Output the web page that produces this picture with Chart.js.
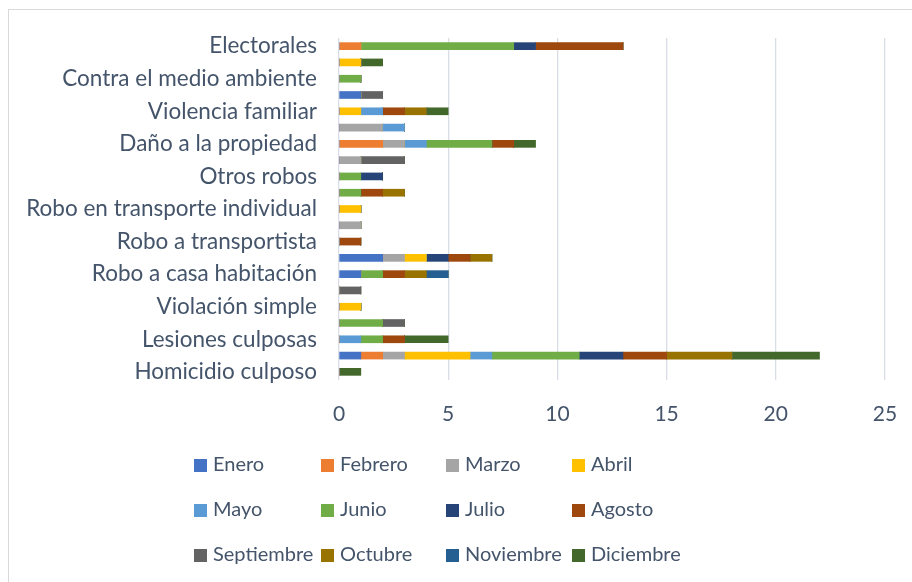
<!DOCTYPE html>
<html>
<head>
<meta charset="utf-8">
<script src="https://cdn.jsdelivr.net/npm/chart.js@4.4.1/dist/chart.umd.min.js"></script>
<style>
  body { margin: 0; background: #fff; overflow: hidden; }
  #wrap { position: relative; width: 912px; height: 582px; }
  #frame { position: absolute; left: 8px; top: 9px; width: 920px; height: 600px; border: 1px solid #D9D9D9; box-sizing: border-box; }
  #myChart { position: absolute; left: 0; top: 0; }
  .leg { position: absolute; font-family: "Lato", sans-serif; font-size: 20px; color: #44546A; line-height: 20px; white-space: nowrap; }
  .leg span { display: inline-block; width: 13px; height: 13px; margin-right: 6px; vertical-align: -1px; }
</style>
</head>
<body>
<div id="wrap">
  <div id="frame"></div>
  <canvas id="myChart" width="912" height="582"></canvas>
  <div id="legend"></div>
</div>
<script>
// categorias de arriba hacia abajo (solo se rotulan las pares)
const categorias = [
  'Electorales', 'Narcomenudeo', 'Contra el medio ambiente', 'Otros delitos contra la familia',
  'Violencia familiar', 'Despojo', 'Daño a la propiedad', 'Fraude', 'Otros robos',
  'Robo a negocio', 'Robo en transporte individual', 'Robo a transeúnte', 'Robo a transportista',
  'Robo de vehículo automotor', 'Robo a casa habitación', 'Violación equiparada', 'Violación simple',
  'Abuso sexual', 'Lesiones culposas', 'Lesiones dolosas', 'Homicidio culposo'
];

const meses = ['Enero','Febrero','Marzo','Abril','Mayo','Junio','Julio','Agosto','Septiembre','Octubre','Noviembre','Diciembre'];

const enero      = [0,0,0,1,0,0,0,0,0,0,0,0,0,2,1,0,0,0,0,1,0];
const febrero    = [1,0,0,0,0,0,2,0,0,0,0,0,0,0,0,0,0,0,0,1,0];
const marzo      = [0,0,0,0,0,2,1,1,0,0,0,1,0,1,0,0,0,0,0,1,0];
const abril      = [0,1,0,0,1,0,0,0,0,0,1,0,0,1,0,0,1,0,0,3,0];
const mayo       = [0,0,0,0,1,1,1,0,0,0,0,0,0,0,0,0,0,0,1,1,0];
const junio      = [7,0,1,0,0,0,3,0,1,1,0,0,0,0,1,0,0,2,1,4,0];
const julio      = [1,0,0,0,0,0,0,0,1,0,0,0,0,1,0,0,0,0,0,2,0];
const agosto     = [4,0,0,0,1,0,1,0,0,1,0,0,1,1,1,0,0,0,1,2,0];
const septiembre = [0,0,0,1,0,0,0,2,0,0,0,0,0,0,0,1,0,1,0,0,0];
const octubre    = [0,0,0,0,1,0,0,0,0,1,0,0,0,1,1,0,0,0,0,3,0];
const noviembre  = [0,0,0,0,0,0,0,0,0,0,0,0,0,0,1,0,0,0,0,0,0];
const diciembre  = [0,1,0,0,1,0,1,0,0,0,0,0,0,0,0,0,0,0,2,4,1];

const series = [enero, febrero, marzo, abril, mayo, junio, julio, agosto, septiembre, octubre, noviembre, diciembre];
const colores = ['#4472C4','#ED7D31','#A5A5A5','#FFC000','#5B9BD5','#70AD47','#264478','#9E480E','#636363','#997300','#255E91','#43682B'];

const textColor = '#44546A';
const font = 'Lato';

const ctx = document.getElementById('myChart').getContext('2d');

const myChart = new Chart(ctx, {
  type: 'bar',
  data: {
    labels: categorias,
    datasets: meses.map((m, i) => ({
      label: m,
      data: series[i],
      backgroundColor: colores[i],
      borderWidth: 0,
      barThickness: 7
    }))
  },
  options: {
    indexAxis: 'y',
    responsive: false,
    devicePixelRatio: 1,
    animation: false,
    layout: { padding: { top: 38, right: 27, left: 0, bottom: 0 } },
    plugins: {
      legend: { display: false },
      tooltip: { enabled: false }
    },
    scales: {
      x: {
        stacked: true,
        min: 0,
        max: 25,
        ticks: { stepSize: 5, padding: 22, color: textColor, font: { family: font, size: 21 } },
        grid: { color: '#D9DEE6', lineWidth: 1.3, drawTicks: false },
        border: { display: false },
        afterFit: (s) => { s.height = 202; s.paddingLeft = 0; s.paddingRight = 0; }
      },
      y: {
        stacked: true,
        ticks: {
          autoSkip: false,
          padding: 22,
          color: textColor,
          font: { family: font, size: 22.5 },
          callback: function (v, i) { return i % 2 === 0 ? this.getLabelForValue(v) : ''; }
        },
        grid: { display: false, drawTicks: false },
        border: { display: false },
        afterFit: (s) => { s.width = 339; }
      }
    }
  }
});

// leyenda en cuatro columnas, como en el original
const legendCols = [194, 321, 446, 572];
const legendRows = [453, 498, 543];
const legend = document.getElementById('legend');
meses.forEach((m, i) => {
  const d = document.createElement('div');
  d.className = 'leg';
  d.style.left = legendCols[i % 4] + 'px';
  d.style.top = legendRows[Math.floor(i / 4)] + 'px';
  d.innerHTML = '<span style="background:' + colores[i] + '"></span>' + m;
  legend.appendChild(d);
});
</script>
</body>
</html>
